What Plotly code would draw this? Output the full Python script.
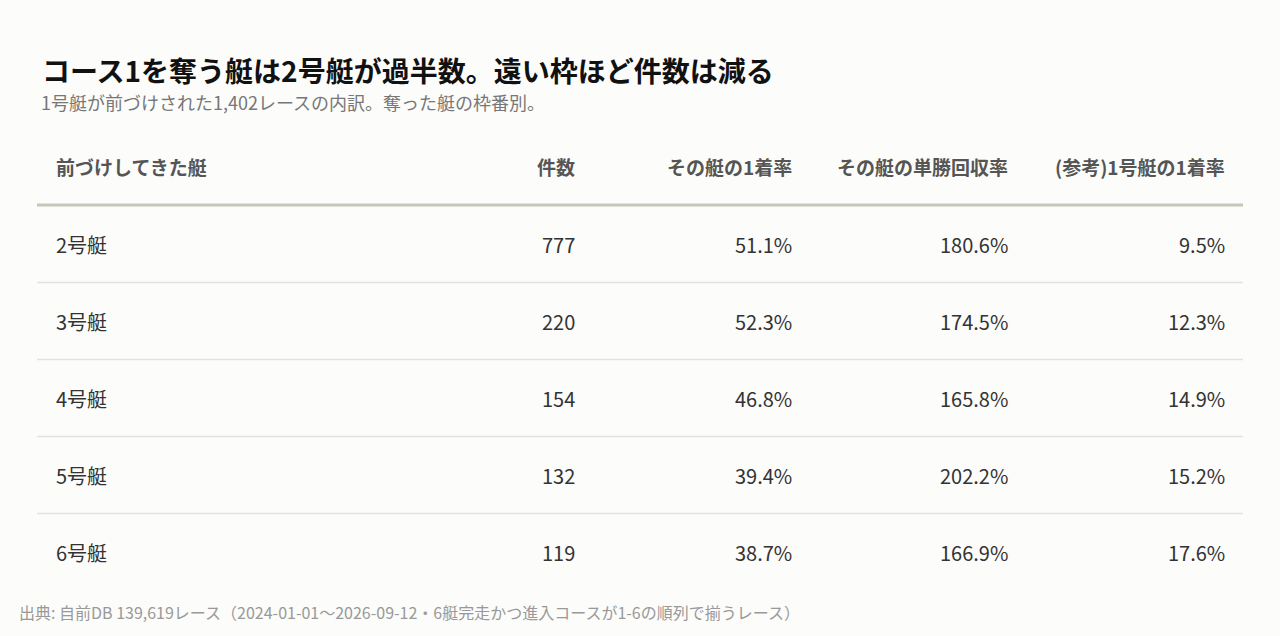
import plotly.graph_objects as go

headers = ["前づけしてきた艇", "件数", "その艇の1着率", "その艇の単勝回収率", "(参考)1号艇の1着率"]
boats = ["2号艇", "3号艇", "4号艇", "5号艇", "6号艇"]
counts = [777, 220, 154, 132, 119]
win_rate = [51.1, 52.3, 46.8, 39.4, 38.7]
return_rate = [180.6, 174.5, 165.8, 202.2, 166.9]
boat1_rate = [9.5, 12.3, 14.9, 15.2, 17.6]

FONT = "Noto Sans CJK JP"
BG = "#fcfcfa"

# layout in pixels
row_y = [244 + 77 * i for i in range(len(boats))]
col_x = [54, 577, 794, 1010, 1227]
header_y = 166

fig = go.Figure()

columns = [
    boats,
    [f"{c:,}" for c in counts],
    [f"{v:.1f}%" for v in win_rate],
    [f"{v:.1f}%" for v in return_rate],
    [f"{v:.1f}%" for v in boat1_rate],
]
for j, col in enumerate(columns):
    fig.add_annotation(
        x=col_x[j], y=header_y, text=f"<b>{headers[j]}</b>", showarrow=False,
        xanchor="left" if j == 0 else "right", yanchor="middle",
        font=dict(family=FONT, size=19, color="#555555"),
    )
    for i, t in enumerate(col):
        fig.add_annotation(
            x=col_x[j], y=row_y[i], text=t, showarrow=False,
            xanchor="left" if j == 0 else "right", yanchor="middle",
            font=dict(family=FONT, size=20, color="#333333"),
        )

fig.add_shape(type="line", x0=37, x1=1243, y0=205, y1=205,
              line=dict(color="#c5c7b8", width=3))
for i in range(len(boats) - 1):
    y = (row_y[i] + row_y[i + 1]) / 2
    fig.add_shape(type="line", x0=37, x1=1243, y0=y, y1=y,
                  line=dict(color="#e2e2dc", width=1.5))

fig.add_annotation(x=40, y=70, text="<b>コース1を奪う艇は2号艇が過半数。遠い枠ほど件数は減る</b>",
                   showarrow=False, xanchor="left", yanchor="middle",
                   font=dict(family=FONT, size=28, color="#111111"))
fig.add_annotation(x=39, y=102, text="1号艇が前づけされた1,402レースの内訳。奪った艇の枠番別。",
                   showarrow=False, xanchor="left", yanchor="middle",
                   font=dict(family=FONT, size=18, color="#777777"))
fig.add_annotation(x=17, y=612,
                   text="出典: 自前DB 139,619レース（2024-01-01～2026-09-12・6艇完走かつ進入コースが1-6の順列で揃うレース）",
                   showarrow=False, xanchor="left", yanchor="middle",
                   font=dict(family=FONT, size=16, color="#999999"))

fig.add_trace(go.Scatter(x=[0, 1280], y=[0, 636], mode="markers",
                         marker=dict(opacity=0), hoverinfo="skip", showlegend=False))

fig.update_layout(
    width=1280, height=636, margin=dict(l=0, r=0, t=0, b=0),
    paper_bgcolor=BG, plot_bgcolor=BG,
    xaxis=dict(range=[0, 1280], visible=False, fixedrange=True),
    yaxis=dict(range=[636, 0], visible=False, fixedrange=True),
)

fig.write_html("out.html", config={"displayModeBar": False},
               post_script="document.body.style.margin='0';document.body.style.overflow='hidden';document.body.style.background='#fcfcfa';")
